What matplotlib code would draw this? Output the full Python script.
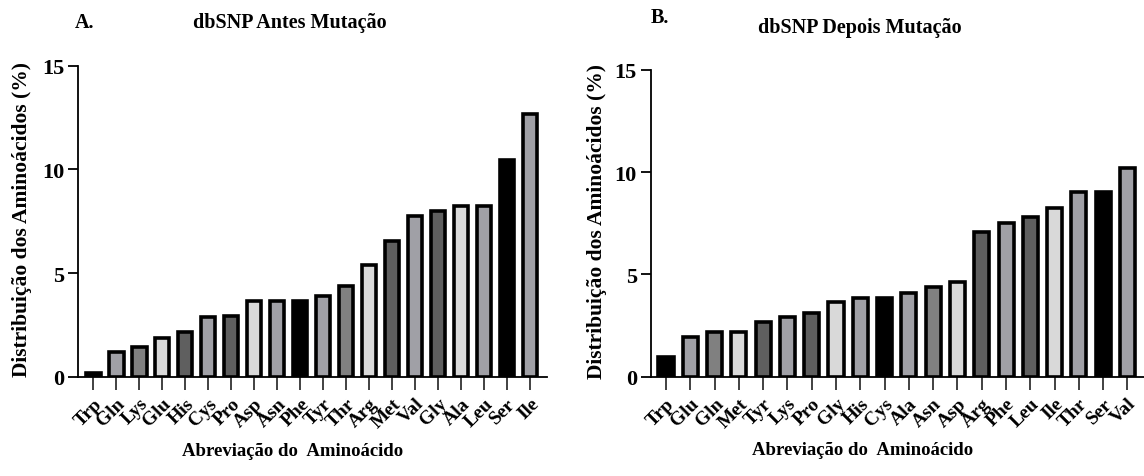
import matplotlib
matplotlib.use("Agg")
import matplotlib.pyplot as plt

plt.rcParams['font.family'] = ['Liberation Serif', 'DejaVu Serif']
plt.rcParams['font.weight'] = 'bold'

# painel A - antes da mutacao
antes_aa = ["Trp", "Gln", "Lys", "Glu", "His", "Cys", "Pro", "Asp", "Asn", "Phe",
            "Tyr", "Thr", "Arg", "Met", "Val", "Gly", "Ala", "Leu", "Ser", "Ile"]
antes_pct = [0.18, 1.19, 1.44, 1.89, 2.15, 2.87, 2.92, 3.64, 3.64, 3.64,
             3.88, 4.36, 5.37, 6.54, 7.77, 8.01, 8.25, 8.25, 10.45, 12.66]

# painel B - depois da mutacao
depois_aa = ["Trp", "Glu", "Gln", "Met", "Tyr", "Lys", "Pro", "Gly", "His", "Cys",
             "Ala", "Asn", "Asp", "Arg", "Phe", "Leu", "Ile", "Thr", "Ser", "Val"]
depois_pct = [0.96, 1.94, 2.20, 2.20, 2.67, 2.92, 3.13, 3.65, 3.86, 3.86,
              4.11, 4.39, 4.63, 7.08, 7.53, 7.79, 8.24, 9.01, 9.01, 10.18]

# cores das barras (mesma sequencia nos dois graficos)
cores = ["#000000", "#a0a0a6", "#808080", "#d9d9d9", "#5f5f5f",
         "#a0a0a6", "#5f5f5f", "#d9d9d9", "#a0a0a6", "#000000",
         "#a0a0a6", "#808080", "#d9d9d9", "#5f5f5f", "#a0a0a6",
         "#5f5f5f", "#d9d9d9", "#a0a0a6", "#000000", "#a0a0a6"]

fig = plt.figure(figsize=(11.44, 4.77), dpi=100)


def painel(rect, nomes, valores, xlim, ylab_x, xlab_x):
    ax = fig.add_axes(rect)
    x = range(len(nomes))
    ax.bar(x, valores, width=0.62, color=cores, edgecolor="black", linewidth=2.6)
    ax.set_xlim(*xlim)
    ax.set_ylim(0, 15)
    ax.set_yticks([0, 5, 10, 15])
    ax.set_xticks(list(x))
    ax.set_xticklabels(nomes, rotation=45, ha="right", rotation_mode="anchor",
                       fontsize=14, fontweight="bold")
    for t in ax.get_yticklabels():
        t.set_fontsize(16)
        t.set_fontweight("bold")
    ax.spines["top"].set_visible(False)
    ax.spines["right"].set_visible(False)
    ax.spines["left"].set_linewidth(1.3)
    ax.spines["bottom"].set_linewidth(1.3)
    ax.tick_params(axis="y", length=7, width=1.3, pad=3)
    ax.tick_params(axis="x", length=9, width=1.3, color="#333333", pad=4)
    ax.set_ylabel("Distribuição dos Aminoácidos (%)", fontsize=15.5, fontweight="bold")
    ax.yaxis.set_label_coords(ylab_x, 0.51)
    ax.set_xlabel("Abreviação do  Aminoácido", fontsize=13.5, fontweight="bold")
    ax.xaxis.set_label_coords(xlab_x, -0.21)
    return ax


painel([0.0682, 0.2082, 0.41, 0.652], antes_aa, antes_pct, (-0.67, 19.74), -0.098, 0.458)
painel([0.5688, 0.2082, 0.4312, 0.6436], depois_aa, depois_pct, (-0.63, 19.68), -0.089, 0.43)

fig.text(0.074, 0.952, "A.", fontsize=14.5, fontweight="bold", ha="center", va="center")
fig.text(0.2535, 0.952, "dbSNP Antes Mutação", fontsize=14.5, fontweight="bold",
         ha="center", va="center")
fig.text(0.577, 0.962, "B.", fontsize=14.5, fontweight="bold", ha="center", va="center")
fig.text(0.752, 0.941, "dbSNP Depois Mutação", fontsize=14.5, fontweight="bold",
         ha="center", va="center")

fig.savefig("out.png", dpi=100)
